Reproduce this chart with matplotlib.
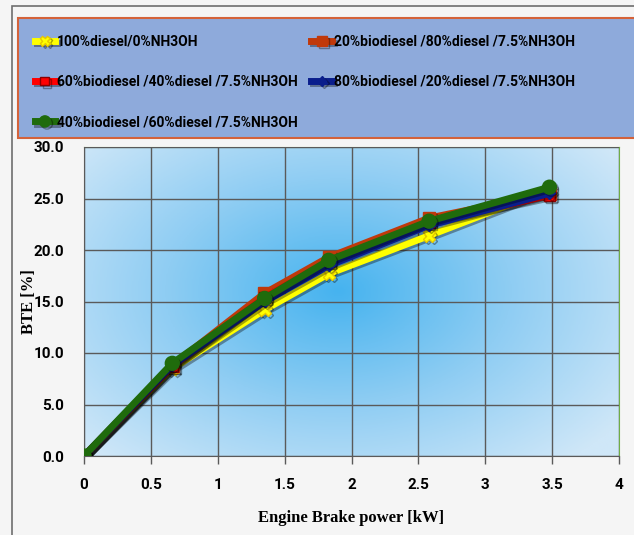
import numpy as np
import matplotlib
matplotlib.use("Agg")
import matplotlib.pyplot as plt
import matplotlib.patches as mpatches
import matplotlib.patheffects as pe
from matplotlib.colors import LinearSegmentedColormap

# engine brake power [kW] and brake thermal efficiency [%]
power = [0, 0.66, 1.35, 1.83, 2.58, 3.48]
bte_d100 = [0, 8.5, 14.2, 17.7, 21.4, 25.9]
bte_b20 = [0, 8.8, 15.8, 19.3, 23.1, 25.5]
bte_b60 = [0, 8.7, 15.4, 18.9, 22.7, 25.3]
bte_b80 = [0, 8.8, 15.0, 18.5, 22.4, 25.5]
bte_b40 = [0, 9.0, 15.3, 19.0, 22.8, 26.1]

labels = ['100%diesel/0%NH3OH',
          '20%biodiesel /80%diesel /7.5%NH3OH',
          '60%biodiesel /40%diesel /7.5%NH3OH',
          '80%biodiesel /20%diesel /7.5%NH3OH',
          '40%biodiesel /60%diesel /7.5%NH3OH']

xticks = [0, 0.5, 1, 1.5, 2, 2.5, 3, 3.5, 4]
xticklabels = ['0', '0.5', '1', '1.5', '2', '2.5', '3', '3.5', '4']
yticks = [0, 5, 10, 15, 20, 25, 30]

narrow = ['Roboto', 'DejaVu Sans']
serif = ['Liberation Serif', 'DejaVu Serif']

fig = plt.figure(figsize=(6.34, 5.35), dpi=100, facecolor='#f5f5f5')

# outer frame of the chart object
fig.patches.append(mpatches.Rectangle((12/634, -0.1), 1.0, 1 - 6/535 + 0.1,
                                      transform=fig.transFigure, fill=False,
                                      edgecolor='#6e6e6e', lw=1.2))
# legend panel
fig.patches.append(mpatches.Rectangle((18/634, 1 - 138/535), 1.0, 120/535,
                                      transform=fig.transFigure,
                                      facecolor='#8eaadb', edgecolor='#d4623a',
                                      lw=1.5))

ax = fig.add_axes([84/634, 1 - 456/535, (619 - 84)/634, (456 - 147)/535])

# radial blue background
gx, gy = np.meshgrid(np.linspace(0, 4, 300), np.linspace(0, 30, 300))
r = np.sqrt(((gx - 1.9)/2.6)**2 + ((gy - 16)/22)**2)
cmap = LinearSegmentedColormap.from_list('bg', ['#46b3ef', '#8fcdf3', '#cfe7f8'])
ax.imshow(np.clip(r, 0, 1), extent=[0, 4, 0, 30], origin='lower', cmap=cmap,
          aspect='auto', vmin=0, vmax=1, zorder=0)

shadow = [pe.SimpleLineShadow(offset=(1.5, -1.5), shadow_color='black', alpha=0.35),
          pe.Normal()]

styles = [
    (bte_d100, '#ffff00', 'X', 9, '#e8c800'),
    (bte_b20, '#c0390b', 's', 9, '#c0390b'),
    (bte_b60, '#ff0000', 's', 8, '#8b0000'),
    (bte_b80, '#0a1e8c', 'D', 6, '#0a1e8c'),
    (bte_b40, '#1f6b0c', 'o', 10, '#1f6b0c'),
]
handles = []
for (vals, col, mk, ms, ec), lab in zip(styles, labels):
    h, = ax.plot(power, vals, color=col, lw=5, marker=mk, markersize=ms,
                 markerfacecolor=col, markeredgecolor=ec, label=lab, zorder=3,
                 path_effects=shadow)
    handles.append(h)

ax.set_xlim(0, 4)
ax.set_ylim(0, 30)
ax.set_xticks(xticks)
ax.set_xticklabels(xticklabels)
ax.set_yticks(yticks)
ax.set_yticklabels(['%.1f' % v for v in yticks])
ax.grid(True, color='#5a5a5a', lw=1.0, zorder=1)
ax.set_axisbelow(False)
for lab in ax.get_xticklabels() + ax.get_yticklabels():
    lab.set_family(narrow)
    lab.set_fontweight('bold')
    lab.set_fontsize(11)
ax.tick_params(axis='x', length=6, width=1, color='#5a5a5a', pad=10)
ax.tick_params(axis='y', length=0, pad=14)
ax.spines['top'].set_color('#70ad47')
ax.spines['right'].set_color('#70ad47')
ax.spines['left'].set_color('#5a5a5a')
ax.spines['bottom'].set_color('#5a5a5a')

ax.set_xlabel('Engine Brake power [kW]', family=serif, fontweight='bold',
              fontsize=12)
ax.xaxis.set_label_coords(0.5, -0.175)
ax.set_ylabel('BTE [%]', family=serif, fontweight='bold', fontsize=12)
ax.yaxis.set_label_coords(-0.088, 0.5)

order = [0, 2, 4, 1, 3]
fig.legend([handles[i] for i in order], [labels[i] for i in order],
           loc='upper left', bbox_to_anchor=(22/634, 1 - 22/535), ncol=2,
           frameon=False, prop={'family': narrow, 'weight': 'bold', 'size': 10},
           handlelength=1.5, handletextpad=0.1, columnspacing=1.0,
           labelspacing=1.9, markerscale=0.8)

fig.savefig('out.png', dpi=100, facecolor=fig.get_facecolor())
